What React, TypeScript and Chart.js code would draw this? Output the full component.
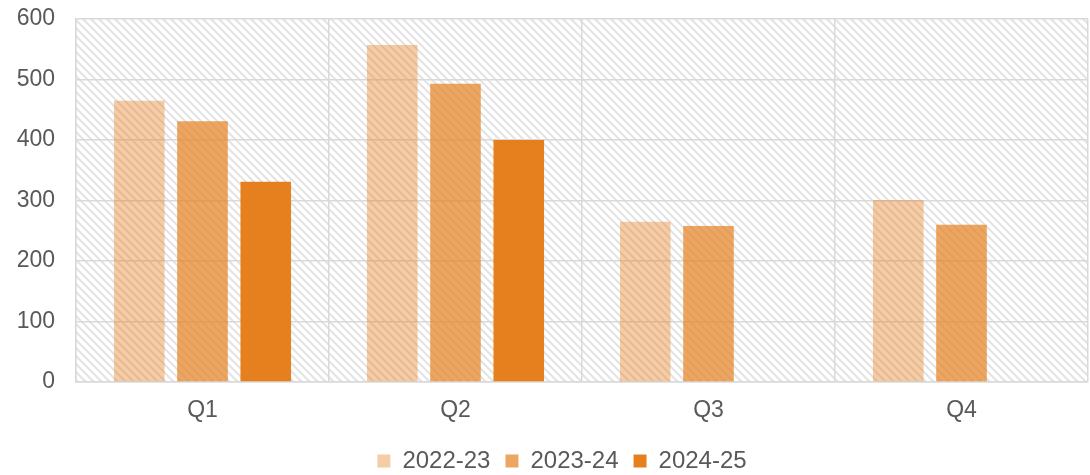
import React, { useEffect, useRef } from "react";
import { Chart, registerables } from "chart.js";

Chart.register(...registerables);

const categories = ["Q1", "Q2", "Q3", "Q4"];
const seriesLabels = ["2022-23", "2023-24", "2024-25"];
const values2022 = [465, 557, 265, 301];
const values2023 = [431, 493, 258, 260];
const values2024 = [331, 400, null, null];
const yMin = 0;
const yMax = 600;
const yStep = 100;

const FONT = "'Liberation Sans', Arial, sans-serif";
const TEXT = "#595959";
const GRID = "#d9d9d9";

function makeHatch(): HTMLCanvasElement {
  const c = document.createElement("canvas");
  c.width = 8;
  c.height = 8;
  const g = c.getContext("2d")!;
  g.strokeStyle = "#e3e3e3";
  g.lineWidth = 2;
  g.beginPath();
  g.moveTo(-2, -2);
  g.lineTo(10, 10);
  g.moveTo(-2, 6);
  g.lineTo(2, 10);
  g.moveTo(6, -2);
  g.lineTo(10, 2);
  g.stroke();
  return c;
}

const hatchPlugin = {
  id: "hatchBg",
  afterUpdate(chart: any) {
    const lg = chart.legend;
    if (lg) {
      lg.left += 18;
      lg.right += 18;
      if (lg.legendHitBoxes) lg.legendHitBoxes.forEach((b: any) => (b.left += 18));
    }
  },
  beforeDraw(chart: any) {
    const { ctx, chartArea } = chart;
    if (!chartArea) return;
    const pat = ctx.createPattern(makeHatch(), "repeat");
    ctx.save();
    ctx.fillStyle = "#ffffff";
    ctx.fillRect(chartArea.left, chartArea.top, chartArea.right - chartArea.left, chartArea.bottom - chartArea.top);
    if (pat) {
      ctx.fillStyle = pat;
      ctx.fillRect(chartArea.left, chartArea.top, chartArea.right - chartArea.left, chartArea.bottom - chartArea.top);
    }
    ctx.restore();
  },
};

export default function App() {
  const ref = useRef<HTMLCanvasElement | null>(null);

  useEffect(() => {
    if (!ref.current) return;
    const chart = new Chart(ref.current, {
      type: "bar",
      data: {
        labels: categories,
        datasets: [
          { label: seriesLabels[0], data: values2022, backgroundColor: "rgba(230,128,30,0.4)" },
          { label: seriesLabels[1], data: values2023, backgroundColor: "rgba(230,128,30,0.7)" },
          { label: seriesLabels[2], data: values2024 as any, backgroundColor: "rgba(230,128,30,1)" },
        ],
      },
      options: {
        animation: false,
        responsive: true,
        maintainAspectRatio: false,
        layout: { padding: { top: 19, right: 2, left: 0, bottom: -8 } },
        datasets: { bar: { categoryPercentage: 0.75, barPercentage: 0.8 } },
        plugins: {
          tooltip: { enabled: false },
          legend: {
            position: "bottom",
            labels: {
              font: { family: FONT, size: 24 },
              color: TEXT,
              boxWidth: 13,
              boxHeight: 13,
              padding: 15,
            },
          },
        },
        scales: {
          x: {
            grid: { color: GRID, lineWidth: 1.5, drawTicks: false, offset: true },
            border: { color: GRID, width: 1.5 },
            ticks: { font: { family: FONT, size: 23 }, color: TEXT, padding: 15 },
            afterFit(scale: any) {
              scale.height = 52;
            },
          },
          y: {
            min: yMin,
            max: yMax,
            ticks: { stepSize: yStep, font: { family: FONT, size: 23 }, color: TEXT, padding: 0 },
            grid: { color: GRID, lineWidth: 1.5, drawTicks: true, tickLength: 21, tickColor: "rgba(0,0,0,0)" },
            border: { color: GRID, width: 1.5 },
            afterFit(scale: any) {
              scale.width = 76;
            },
          },
        },
      },
      plugins: [hatchPlugin],
    });
    return () => chart.destroy();
  }, []);

  return (
    <div style={{ position: "fixed", left: 0, top: 0, width: 1090, height: 475, background: "#fff" }}>
      <canvas ref={ref} />
    </div>
  );
}
